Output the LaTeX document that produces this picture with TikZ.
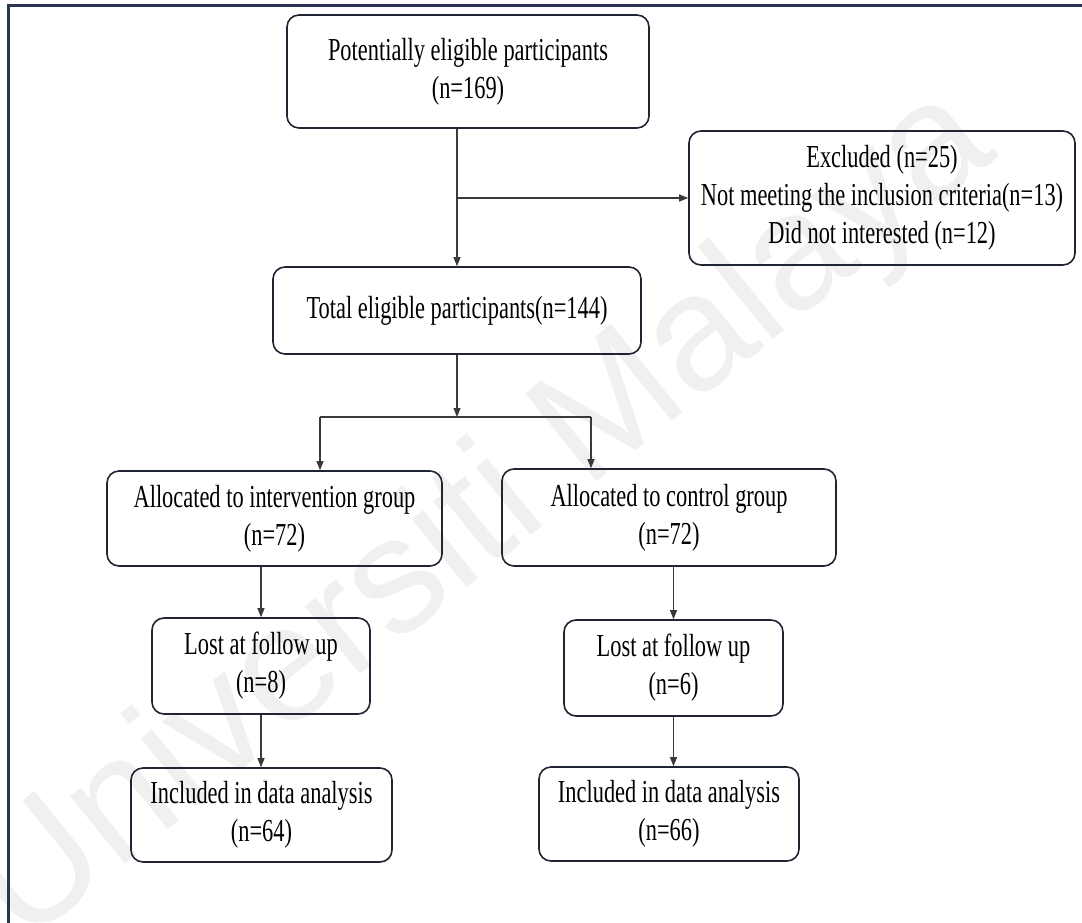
\documentclass[tikz,border=0pt]{standalone}
\usepackage{fontspec}
\setmainfont[FakeStretch=0.70]{Liberation Serif}
\newfontfamily\wmfont{Liberation Sans}
\usetikzlibrary{arrows.meta}
\definecolor{framecol}{HTML}{2B3552}
\definecolor{boxcol}{HTML}{1F2533}
\definecolor{linecol}{HTML}{3A3A3A}
\definecolor{wmcol}{HTML}{F0F0F0}

\begin{document}
\begin{tikzpicture}[x=1pt,y=-1pt,
  flowbox/.style={draw=boxcol, line width=1.6pt, rounded corners=12pt, align=center,
    inner sep=0pt, font=\fontsize{32}{38}\selectfont},
  link/.style={draw=linecol, line width=1.1pt, -{Triangle[length=9pt,width=7pt]}},
  plain/.style={draw=linecol, line width=1.1pt}]

\useasboundingbox (0,0) rectangle (1082,923);

% faint diagonal watermark
\node[rotate=39, text=wmcol, font=\wmfont\fontsize{165}{165}\selectfont] (wm) at (485,518) {Universiti Malaya};

% page frame (top and left edges)
\draw[framecol, line width=2.2pt] (8.5,923) -- (8.5,5.5) -- (1082,5.5);

% boxes
\node[flowbox, minimum width=362pt, minimum height=113pt] (pot) at (468,71.5)
  {Potentially eligible participants\\(n=169)};
\node[flowbox, minimum width=386pt, minimum height=134pt] (excl) at (882,198)
  {Excluded (n=25)\\Not meeting the inclusion criteria(n=13)\\Did not interested (n=12)};
\node[flowbox, minimum width=368pt, minimum height=87pt] (tot) at (457,310.5)
  {Total eligible participants(n=144)};
\node[flowbox, minimum width=335pt, minimum height=95pt] (intv) at (274.5,518.5)
  {Allocated to intervention group\\(n=72)};
\node[flowbox, minimum width=334pt, minimum height=97pt] (ctrl) at (669,517.5)
  {Allocated to control group\\(n=72)};
\node[flowbox, minimum width=218pt, minimum height=96pt] (lostA) at (261,666)
  {Lost at follow up\\(n=8)};
\node[flowbox, minimum width=219pt, minimum height=96pt] (lostB) at (673.5,668)
  {Lost at follow up\\(n=6)};
\node[flowbox, minimum width=261pt, minimum height=94pt] (incA) at (261.5,815)
  {Included in data analysis\\(n=64)};
\node[flowbox, minimum width=260pt, minimum height=94pt] (incB) at (669,814)
  {Included in data analysis\\(n=66)};

% branching points
\coordinate (split) at (457,417);
\coordinate (splitL) at (320,417);
\coordinate (splitR) at (591,417);

% connectors
\draw[link] (pot.south -| tot.north) -- (tot.north);
\draw[link] (excl.west -| tot.north) -- (excl.west);
\draw[link] (tot.south) -- (split);
\draw[plain] (splitL) -- (splitR);
\draw[link] (splitL) -- (splitL |- intv.north);
\draw[link] (splitR) -- (splitR |- ctrl.north);
\draw[link] (intv.south -| lostA.north) -- (lostA.north);
\draw[link] (lostA.south) -- (lostA.south |- incA.north);
\draw[link] (ctrl.south -| lostB.north) -- (lostB.north);
\draw[link] (lostB.south) -- (lostB.south |- incB.north);
\end{tikzpicture}
\end{document}
